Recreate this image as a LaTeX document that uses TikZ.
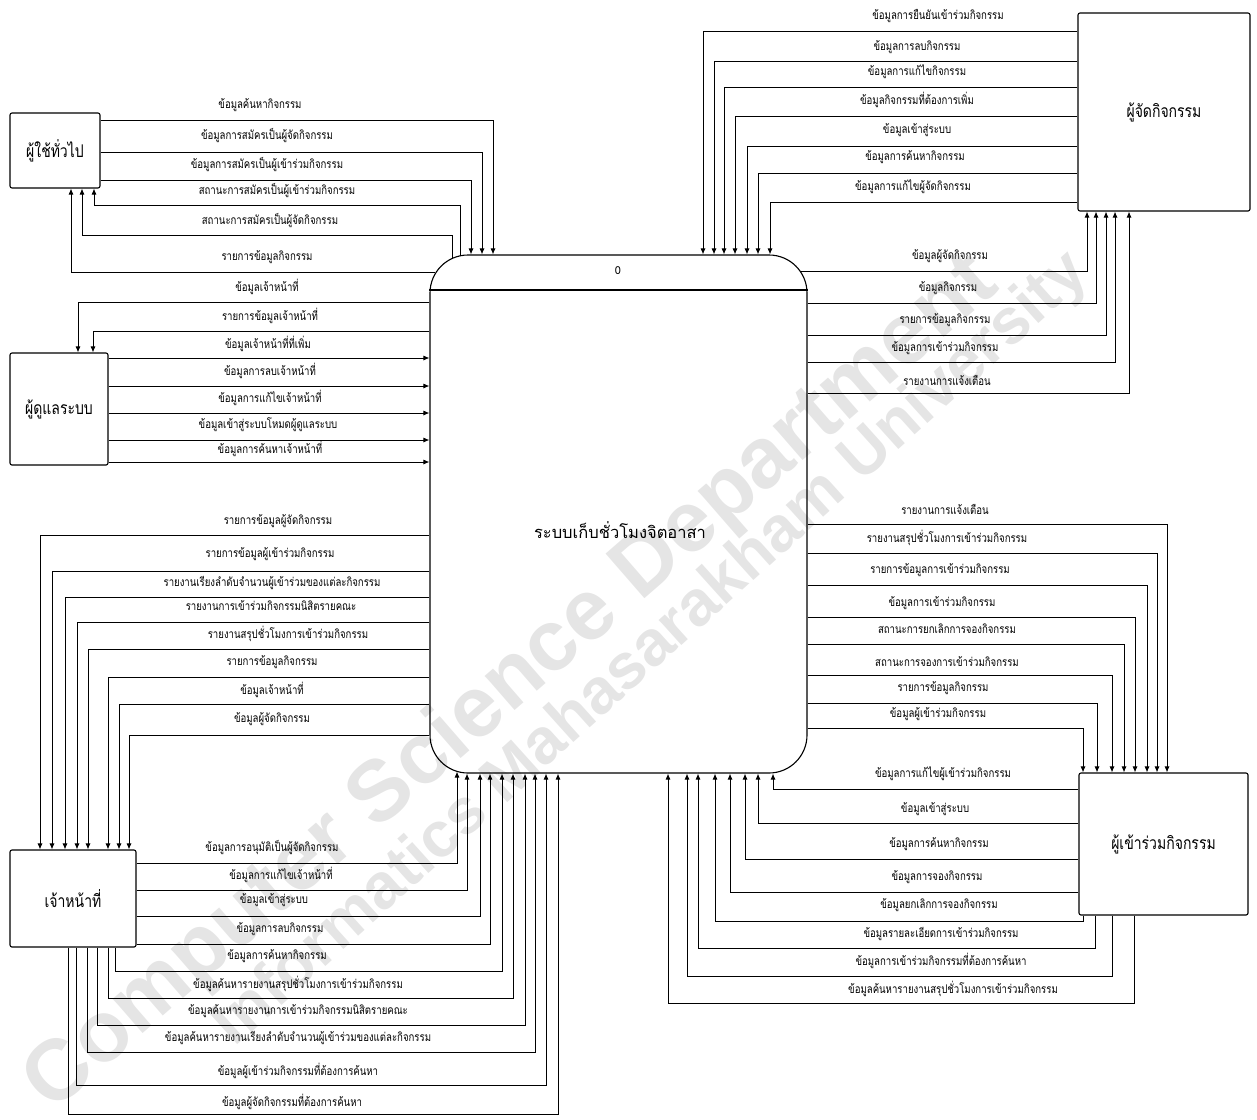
\documentclass[tikz,border=0pt]{standalone}
\usepackage{fontspec}
\setsansfont{Liberation Sans}
\newfontfamily\thaifont[Script=Thai,FakeStretch=0.8]{Loma}
\newfontfamily\thaiwide[Script=Thai]{Loma}
\usetikzlibrary{positioning}
\usetikzlibrary{calc}
\usetikzlibrary{arrows.meta}

\tikzset{
  entity/.style={draw, line width=1.1pt, rounded corners=2pt, inner sep=0pt,
    font=\fontsize{17.5}{17.5}\selectfont\thaifont},
  proc/.style={draw, line width=1.1pt, rounded corners=38pt, inner sep=0pt},
  flow/.style={line width=0.9pt, -{Latex[length=6pt,width=5pt]}},
  lbl/.style={inner sep=0pt, font=\fontsize{12}{12}\selectfont\thaifont},
  wmark/.style={inner sep=0pt, text=black, text opacity=0.1}
}

\begin{document}
\begin{tikzpicture}[x=1pt, y=-1pt]
\useasboundingbox[fill=white] (0,0) rectangle (1257,1119);

% Process 0
\node[proc, minimum width=377pt, minimum height=518pt] (sys) at (618.5,514) {};
\draw[line width=1.1pt] (sys.west |- 0,290) -- (sys.east |- 0,290);
\node[font=\fontsize{11}{11}\selectfont\thaiwide] (num) at (618,271) {0};
\node[font=\fontsize{16.5}{16.5}\selectfont\thaiwide] (title) at (620,530) {ระบบเก็บชั่วโมงจิตอาสา};

% External entities
\node[entity, minimum width=90pt, minimum height=75pt] (user) at (55,150.5) {ผู้ใช้ทั่วไป};
\node[entity, minimum width=98pt, minimum height=112pt] (admin) at (59,409) {ผู้ดูแลระบบ};
\node[entity, minimum width=126pt, minimum height=97pt] (staff) at (73,898.5) {เจ้าหน้าที่};
\node[entity, minimum width=172pt, minimum height=198pt] (org) at (1164,112) {ผู้จัดกิจกรรม};
\node[entity, minimum width=169pt, minimum height=142pt] (part) at (1163.5,844) {ผู้เข้าร่วมกิจกรรม};

% General user
\draw[flow] (user.east |- 0,120) -| (sys.north -| 493,0);
\node[lbl] (u1) at (260,105) {ข้อมูลค้นหากิจกรรม};
\draw[flow] (user.east |- 0,152) -| (sys.north -| 482,0);
\node[lbl] (u2) at (267,136) {ข้อมูลการสมัครเป็นผู้จัดกิจกรรม};
\draw[flow] (user.east |- 0,180) -| (sys.north -| 471,0);
\node[lbl] (u3) at (267,165) {ข้อมูลการสมัครเป็นผู้เข้าร่วมกิจกรรม};
\draw[flow] ($(sys.north -| 460,0)+(0,2)$) |- (94,205) -- (user.south -| 94,0);
\node[lbl] (u4) at (277,191) {สถานะการสมัครเป็นผู้เข้าร่วมกิจกรรม};
\draw[flow] ($(sys.north -| 452,0)+(0,4)$) |- (82,235) -- (user.south -| 82,0);
\node[lbl] (u5) at (270,221) {สถานะการสมัครเป็นผู้จัดกิจกรรม};
\draw[flow] ($(sys.west |- 0,272)+(6,0)$) -| (user.south -| 71,0);
\node[lbl] (u6) at (267,257) {รายการข้อมูลกิจกรรม};

% Admin
\draw[flow] (sys.west |- 0,302) -| (admin.north -| 78,0);
\node[lbl] (a1) at (267,287) {ข้อมูลเจ้าหน้าที่};
\draw[flow] (sys.west |- 0,331) -| (admin.north -| 93,0);
\node[lbl] (a2) at (270,316) {รายการข้อมูลเจ้าหน้าที่};
\draw[flow] (admin.east |- 0,358) -- (sys.west |- 0,358);
\node[lbl] (a3) at (268,344) {ข้อมูลเจ้าหน้าที่ที่เพิ่ม};
\draw[flow] (admin.east |- 0,386) -- (sys.west |- 0,386);
\node[lbl] (a4) at (270,371) {ข้อมูลการลบเจ้าหน้าที่};
\draw[flow] (admin.east |- 0,413) -- (sys.west |- 0,413);
\node[lbl] (a5) at (270,398) {ข้อมูลการแก้ไขเจ้าหน้าที่};
\draw[flow] (admin.east |- 0,440) -- (sys.west |- 0,440);
\node[lbl] (a6) at (268,425) {ข้อมูลเข้าสู่ระบบโหมดผู้ดูแลระบบ};
\draw[flow] (admin.east |- 0,462) -- (sys.west |- 0,462);
\node[lbl] (a7) at (270,449) {ข้อมูลการค้นหาเจ้าหน้าที่};

% Staff, data in
\draw[flow] (sys.west |- 0,535) -| (staff.north -| 40,0);
\node[lbl] (s1) at (278,521) {รายการข้อมูลผู้จัดกิจกรรม};
\draw[flow] (sys.west |- 0,571) -| (staff.north -| 52,0);
\node[lbl] (s2) at (270,554) {รายการข้อมูลผู้เข้าร่วมกิจกรรม};
\draw[flow] (sys.west |- 0,597) -| (staff.north -| 65,0);
\node[lbl] (s3) at (272,583) {รายงานเรียงลำดับจำนวนผู้เข้าร่วมของแต่ละกิจกรรม};
\draw[flow] (sys.west |- 0,622) -| (staff.north -| 77,0);
\node[lbl] (s4) at (271,606) {รายงานการเข้าร่วมกิจกรรมนิสิตรายคณะ};
\draw[flow] (sys.west |- 0,649) -| (staff.north -| 88,0);
\node[lbl] (s5) at (288,634) {รายงานสรุปชั่วโมงการเข้าร่วมกิจกรรม};
\draw[flow] (sys.west |- 0,677) -| (staff.north -| 108,0);
\node[lbl] (s6) at (272,662) {รายการข้อมูลกิจกรรม};
\draw[flow] (sys.west |- 0,704) -| (staff.north -| 119,0);
\node[lbl] (s7) at (272,690) {ข้อมูลเจ้าหน้าที่};
\draw[flow] (sys.west |- 0,735) -| (staff.north -| 129,0);
\node[lbl] (s8) at (272,719) {ข้อมูลผู้จัดกิจกรรม};

% Staff, data out
\draw[flow] (staff.east |- 0,863) -| ($(sys.south -| 457,0)+(0,-2)$);
\node[lbl] (t1) at (272,848) {ข้อมูลการอนุมัติเป็นผู้จัดกิจกรรม};
\draw[flow] (staff.east |- 0,890) -| (sys.south -| 467,0);
\node[lbl] (t2) at (281,875) {ข้อมูลการแก้ไขเจ้าหน้าที่};
\draw[flow] (staff.east |- 0,916) -| (sys.south -| 480,0);
\node[lbl] (t3) at (274,900) {ข้อมูลเข้าสู่ระบบ};
\draw[flow] (staff.east |- 0,944) -| (sys.south -| 490,0);
\node[lbl] (t4) at (280,929) {ข้อมูลการลบกิจกรรม};
\draw[flow] (staff.south -| 115,0) |- (502,971) -- (sys.south -| 502,0);
\node[lbl] (t5) at (277,956) {ข้อมูลการค้นหากิจกรรม};
\draw[flow] (staff.south -| 108,0) |- (513,998) -- (sys.south -| 513,0);
\node[lbl] (t6) at (298,984) {ข้อมูลค้นหารายงานสรุปชั่วโมงการเข้าร่วมกิจกรรม};
\draw[flow] (staff.south -| 97,0) |- (525,1025) -- (sys.south -| 525,0);
\node[lbl] (t7) at (298,1011) {ข้อมูลค้นหารายงานการเข้าร่วมกิจกรรมนิสิตรายคณะ};
\draw[flow] (staff.south -| 87,0) |- (535,1052) -- (sys.south -| 535,0);
\node[lbl] (t8) at (298,1038) {ข้อมูลค้นหารายงานเรียงลำดับจำนวนผู้เข้าร่วมของแต่ละกิจกรรม};
\draw[flow] (staff.south -| 76,0) |- (546,1085) -- (sys.south -| 546,0);
\node[lbl] (t9) at (298,1071) {ข้อมูลผู้เข้าร่วมกิจกรรมที่ต้องการค้นหา};
\draw[flow] (staff.south -| 68,0) |- (558,1114) -- (sys.south -| 558,0);
\node[lbl] (t10) at (292,1102) {ข้อมูลผู้จัดกิจกรรมที่ต้องการค้นหา};

% Organiser, data out
\draw[flow] (org.west |- 0,31) -| (sys.north -| 703,0);
\node[lbl] (o1) at (938,16) {ข้อมูลการยืนยันเข้าร่วมกิจกรรม};
\draw[flow] (org.west |- 0,61) -| (sys.north -| 714,0);
\node[lbl] (o2) at (917,47) {ข้อมูลการลบกิจกรรม};
\draw[flow] (org.west |- 0,87) -| (sys.north -| 724,0);
\node[lbl] (o3) at (917,72) {ข้อมูลการแก้ไขกิจกรรม};
\draw[flow] (org.west |- 0,116) -| (sys.north -| 735,0);
\node[lbl] (o4) at (917,100) {ข้อมูลกิจกรรมที่ต้องการเพิ่ม};
\draw[flow] (org.west |- 0,146) -| (sys.north -| 747,0);
\node[lbl] (o5) at (917,130) {ข้อมูลเข้าสู่ระบบ};
\draw[flow] (org.west |- 0,173) -| (sys.north -| 758,0);
\node[lbl] (o6) at (915,157) {ข้อมูลการค้นหากิจกรรม};
\draw[flow] (org.west |- 0,202) -| (sys.north -| 770,0);
\node[lbl] (o7) at (913,187) {ข้อมูลการแก้ไขผู้จัดกิจกรรม};

% Organiser, data in
\draw[flow] ($(sys.east |- 0,271)+(-7,0)$) -| (org.south -| 1087,0);
\node[lbl] (p1) at (950,256) {ข้อมูลผู้จัดกิจกรรม};
\draw[flow] (sys.east |- 0,303) -| (org.south -| 1096,0);
\node[lbl] (p2) at (948,288) {ข้อมูลกิจกรรม};
\draw[flow] (sys.east |- 0,335) -| (org.south -| 1106,0);
\node[lbl] (p3) at (945,320) {รายการข้อมูลกิจกรรม};
\draw[flow] (sys.east |- 0,362) -| (org.south -| 1115,0);
\node[lbl] (p4) at (945,348) {ข้อมูลการเข้าร่วมกิจกรรม};
\draw[flow] (sys.east |- 0,393) -| (org.south -| 1129,0);
\node[lbl] (p5) at (947,380) {รายงานการแจ้งเตือน};

% Participant, data in
\draw[flow] (sys.east |- 0,524) -| (part.north -| 1167,0);
\node[lbl] (q1) at (945,509) {รายงานการแจ้งเตือน};
\draw[flow] (sys.east |- 0,553) -| (part.north -| 1157,0);
\node[lbl] (q2) at (947,538) {รายงานสรุปชั่วโมงการเข้าร่วมกิจกรรม};
\draw[flow] (sys.east |- 0,585) -| (part.north -| 1147,0);
\node[lbl] (q3) at (940,570) {รายการข้อมูลการเข้าร่วมกิจกรรม};
\draw[flow] (sys.east |- 0,617) -| (part.north -| 1135,0);
\node[lbl] (q4) at (942,603) {ข้อมูลการเข้าร่วมกิจกรรม};
\draw[flow] (sys.east |- 0,644) -| (part.north -| 1124,0);
\node[lbl] (q5) at (947,629) {สถานะการยกเลิกการจองกิจกรรม};
\draw[flow] (sys.east |- 0,675) -| (part.north -| 1112,0);
\node[lbl] (q6) at (947,662) {สถานะการจองการเข้าร่วมกิจกรรม};
\draw[flow] (sys.east |- 0,703) -| (part.north -| 1097,0);
\node[lbl] (q7) at (943,688) {รายการข้อมูลกิจกรรม};
\draw[flow] (sys.east |- 0,728) -| (part.north -| 1083,0);
\node[lbl] (q8) at (938,714) {ข้อมูลผู้เข้าร่วมกิจกรรม};

% Participant, data out
\draw[flow] (part.west |- 0,789) -| (sys.south -| 773,0);
\node[lbl] (r1) at (943,774) {ข้อมูลการแก้ไขผู้เข้าร่วมกิจกรรม};
\draw[flow] (part.west |- 0,823) -| (sys.south -| 758,0);
\node[lbl] (r2) at (935,809) {ข้อมูลเข้าสู่ระบบ};
\draw[flow] (part.west |- 0,859) -| (sys.south -| 745,0);
\node[lbl] (r3) at (939,844) {ข้อมูลการค้นหากิจกรรม};
\draw[flow] (part.west |- 0,892) -| (sys.south -| 730,0);
\node[lbl] (r4) at (937,877) {ข้อมูลการจองกิจกรรม};
\draw[flow] (part.south -| 1083,0) |- (715,921) -- (sys.south -| 715,0);
\node[lbl] (r5) at (939,905) {ข้อมูลยกเลิกการจองกิจกรรม};
\draw[flow] (part.south -| 1095,0) |- (698,948) -- (sys.south -| 698,0);
\node[lbl] (r6) at (941,934) {ข้อมูลรายละเอียดการเข้าร่วมกิจกรรม};
\draw[flow] (part.south -| 1112,0) |- (687,976) -- (sys.south -| 687,0);
\node[lbl] (r7) at (941,961) {ข้อมูลการเข้าร่วมกิจกรรมที่ต้องการค้นหา};
\draw[flow] (part.south -| 1134,0) |- (668,1003) -- (sys.south -| 668,0);
\node[lbl] (r8) at (953,989) {ข้อมูลค้นหารายงานสรุปชั่วโมงการเข้าร่วมกิจกรรม};

% Watermark
\node[wmark, rotate=41, font=\fontsize{86}{86}\selectfont\sffamily\bfseries] (wm1) at (512,684) {Computer Science Department};
\node[wmark, rotate=42, font=\fontsize{64}{64}\selectfont\sffamily\bfseries] (wm2) at (652,650) {Informatics Mahasarakham University};
\end{tikzpicture}
\end{document}
